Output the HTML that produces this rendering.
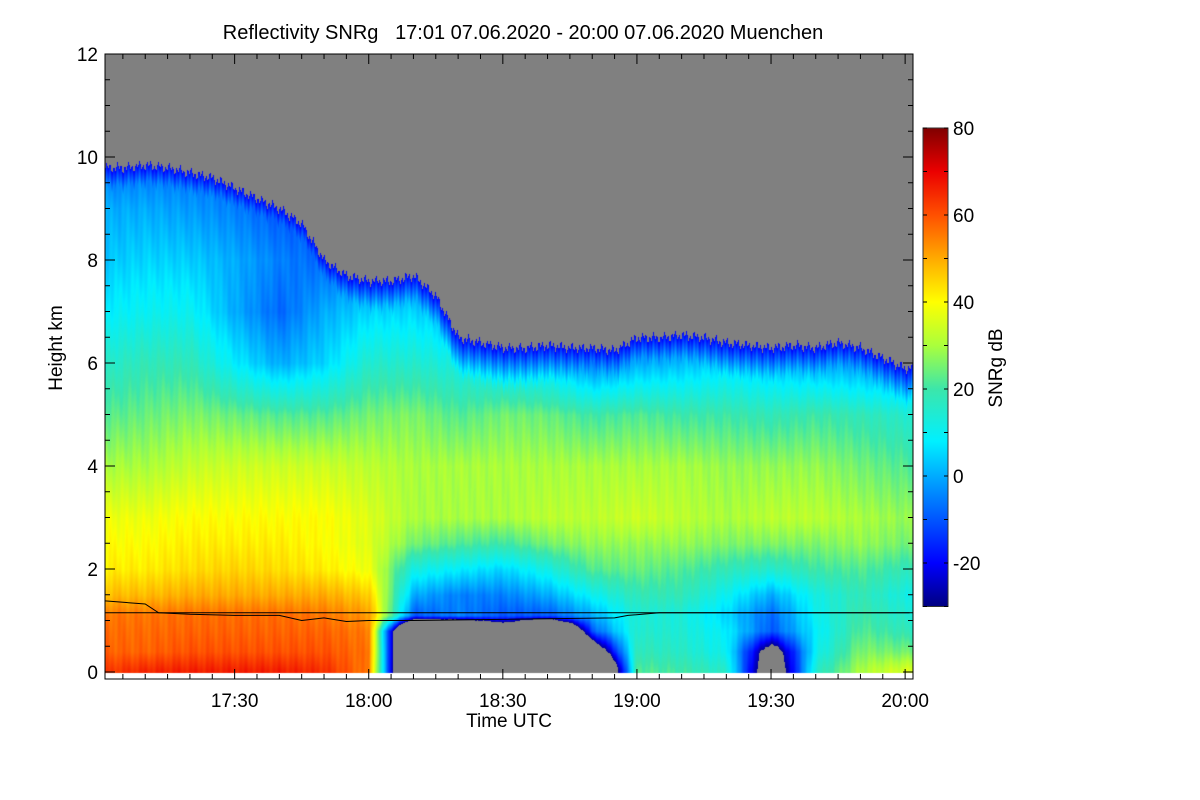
<!DOCTYPE html>
<html><head><meta charset="utf-8"><style>
body{margin:0;background:#fff;}
#wrap{position:relative;width:1200px;height:800px;font-family:"Liberation Sans",sans-serif;}
canvas{position:absolute;left:105px;top:54px;}
svg{position:absolute;left:0;top:0;}
text{white-space:pre;}
</style></head><body>
<div id="wrap">
<canvas id="hm" width="808" height="625"></canvas>
<svg id="ov" width="1200" height="800"></svg>
</div>
<script>
// ---- data ----
const timesMin = [0,10,20,30,40,50,60,70,80,90,100,110,120,130,140,150,160,170,180]; // minutes after 17:00
const heightsKm = [0.05,0.4,0.8,1.1,1.5,2,2.5,3,4,5,6,7,8,9,10];
const topTimes = [0,5,10,15,20,25,30,35,40,45,50,55,60,65,70,75,80,85,90,95,100,105,110,115,120,125,130,135,140,145,150,155,160,165,170,175,180];
const cloudTopKm = [9.8,9.8,9.85,9.8,9.7,9.6,9.4,9.2,9.0,8.7,8.0,7.7,7.6,7.6,7.7,7.3,6.5,6.4,6.3,6.3,6.35,6.3,6.3,6.25,6.5,6.5,6.55,6.5,6.4,6.35,6.3,6.35,6.3,6.4,6.3,6.1,5.9];
const snr = [
[62,58,57,56,48,42,40,38,30,22,15,8,3,0,-8],
[65,58,57,56,48,42,40,38,30,24,18,10,5,0,-8],
[66,60,58,57,50,44,42,40,33,26,18,10,4,-2,-8],
[66,60,58,57,50,45,42,40,34,24,8,0,0,-5,-8],
[66,60,58,57,50,44,42,40,34,22,0,-8,-5,-10,-10],
[64,60,58,56,50,42,40,40,34,22,5,0,-8,-10,-10],
[55,56,55,52,46,38,36,36,32,25,15,5,-5,-10,-12],
[-99,-99,-99,-10,0,12,25,30,30,26,15,5,-10,-12,-12],
[-99,-99,-99,-5,-5,8,22,30,30,22,12,0,-10,-12,-12],
[-99,-99,-50,-10,-5,5,20,30,30,25,8,-10,-12,-12,-12],
[-99,-99,-99,-10,0,12,25,32,30,24,5,-10,-12,-12,-12],
[-99,-50,-10,0,10,22,28,32,30,20,-5,-12,-12,-12,-12],
[22,18,15,14,18,24,28,34,30,22,0,-12,-12,-12,-12],
[20,16,14,13,18,22,28,32,30,20,2,-12,-12,-12,-12],
[15,10,8,5,10,18,26,30,28,20,5,-10,-12,-12,-12],
[-50,-40,-10,-8,0,15,26,32,28,18,2,-10,-12,-12,-12],
[15,10,8,10,12,20,26,32,28,20,0,-10,-12,-12,-12],
[30,26,22,20,18,22,28,30,25,18,-2,-12,-12,-12,-12],
[35,25,18,15,12,18,25,28,22,15,-5,-12,-12,-12,-12]];
const blTimes = [1,10,13,20,30,40,45,50,55,60,65,70,115,118,125,175,181];
const blKm = [1.38,1.32,1.15,1.12,1.1,1.1,1.0,1.05,0.98,1.0,1.0,1.0,1.05,1.1,1.15,1.15,1.15];
const refLineKm = 1.15;
const xTicks = [30,60,90,120,150,180];
const xTickLabels = ["17:30","18:00","18:30","19:00","19:30","20:00"];
const yTicks = [0,2,4,6,8,10,12];
const cbTicks = [-20,0,20,40,60,80];

// ---- axes ----
const X0=105,X1=913,Y0=672,PXKM=51.5;
const xs=m=>X0+(m-1)*4.47;
const ys=k=>Y0-k*PXKM;
const cbY=v=>128+(80-v)*4.35;
const stops=[[-30,0,0,128],[-20,0,0,255],[-5,0,128,255],[8,0,240,255],[20,60,230,170],[30,170,255,60],[40,255,255,0],[50,255,170,0],[60,255,80,0],[70,235,0,0],[80,128,0,0]];
function cmap(v){
  if(v<-28) return [128,128,128];
  if(v<=-30) v=-30; if(v>80) v=80;
  for(let i=1;i<stops.length;i++){ if(v<=stops[i][0]){const a=stops[i-1],b=stops[i],t=(v-a[0])/(b[0]-a[0]);return [a[1]+(b[1]-a[1])*t,a[2]+(b[2]-a[2])*t,a[3]+(b[3]-a[3])*t];}}
  return [128,0,0];
}
function interp(arr,x){ if(x<=arr[0])return [0,0,0]; for(let i=1;i<arr.length;i++) if(x<=arr[i]) return [i-1,i,(x-arr[i-1])/(arr[i]-arr[i-1])]; return [arr.length-1,arr.length-1,0];}
// ---- heatmap ----
const cv=document.getElementById('hm'),ctx=cv.getContext('2d');
const img=ctx.createImageData(808,625);
for(let px=0;px<808;px++){
  const m=px/4.47+1;
  const [i0,i1,tx]=interp(timesMin,m);
  const [c0,c1,tc]=interp(topTimes,m);
  const top=cloudTopKm[c0]*(1-tc)+cloudTopKm[c1]*tc + 0.06*Math.sin(px*1.7)+0.05*Math.sin(px*0.61);
  for(let py=0;py<625;py++){
    const k=(Y0-(py+54))/PXKM;
    let c;
    if(k<0) c=[255,255,255];
    else if(k>top) c=[128,128,128];
    else{
      const [j0,j1,ty]=interp(heightsKm,k);
      const v0=snr[i0][j0]*(1-ty)+snr[i0][j1]*ty, v1=snr[i1][j0]*(1-ty)+snr[i1][j1]*ty;
      let v=v0*(1-tx)+v1*tx + 1.0*Math.sin(px*0.37+k*2.1)+0.8*Math.sin(px*1.13-k*1.3);
      v=Math.min(v,-20+(top-k)*45);
      c=cmap(v);
    }
    const o=(py*808+px)*4; img.data[o]=c[0];img.data[o+1]=c[1];img.data[o+2]=c[2];img.data[o+3]=255;
  }
}
ctx.putImageData(img,0,0);
// ---- overlay ----
const S='http://www.w3.org/2000/svg',svg=document.getElementById('ov');
function el(t,a,txt){const e=document.createElementNS(S,t);for(const k in a)e.setAttribute(k,a[k]);if(txt!=null)e.textContent=txt;svg.appendChild(e);return e;}
const frame=el('rect',{x:X0,y:54,width:X1-X0,height:625,fill:'none',stroke:'#000','stroke-width':1});


let bl='';blTimes.forEach((t,i)=>{bl+=(i?'L':'M')+xs(t).toFixed(1)+','+ys(blKm[i]).toFixed(1);});
const blp=el('path',{d:bl,fill:'none',stroke:'#000','stroke-width':1});


const rl=el('line',{x1:X0,x2:X1,y1:ys(refLineKm),y2:ys(refLineKm),stroke:'#000','stroke-width':1});


for(let m=5;m<=180;m+=5){const maj=m%30==0,L=maj?10:5;
  el('line',{x1:xs(m),x2:xs(m),y1:679,y2:679-L,stroke:'#000'});el('line',{x1:xs(m),x2:xs(m),y1:54,y2:54+L,stroke:'#000'});}
xTicks.forEach((m,i)=>{const t=el('text',{x:xs(m),y:707,'font-size':19,'text-anchor':'middle'},xTickLabels[i]);

});
for(let k=0;k<=12;k+=0.5){const maj=k%2==0,L=maj?10:5;
  el('line',{x1:X0,x2:X0+L,y1:ys(k),y2:ys(k),stroke:'#000'});el('line',{x1:X1,x2:X1-L,y1:ys(k),y2:ys(k),stroke:'#000'});}
yTicks.forEach(k=>{const t=el('text',{x:98,y:ys(k)+7,'font-size':19,'text-anchor':'end'},String(k));

});
// colorbar
const defs=el('defs',{});const g=document.createElementNS(S,'linearGradient');g.setAttribute('id','cb');g.setAttribute('x1',0);g.setAttribute('x2',0);g.setAttribute('y1',1);g.setAttribute('y2',0);defs.appendChild(g);
stops.forEach(s=>{const st=document.createElementNS(S,'stop');st.setAttribute('offset',(s[0]+30)/110);st.setAttribute('stop-color',`rgb(${s[1]},${s[2]},${s[3]})`);g.appendChild(st);});
const cb=el('rect',{x:923,y:cbY(80),width:25,height:cbY(-30)-cbY(80),fill:'url(#cb)',stroke:'#333'});


for(let v=-30;v<=80;v+=10){el('line',{x1:923,x2:927,y1:cbY(v),y2:cbY(v),stroke:'#000'});el('line',{x1:944,x2:948,y1:cbY(v),y2:cbY(v),stroke:'#000'});}
cbTicks.forEach(v=>{const t=el('text',{x:953,y:cbY(v)+7,'font-size':19},String(v));

});
const ct=el('text',{x:0,y:0,'font-size':19,'text-anchor':'middle',transform:'translate(1002,368) rotate(-90)'},'SNRg dB');


const tt=el('text',{x:523,y:39,'font-size':20,'text-anchor':'middle'},'Reflectivity SNRg   17:01 07.06.2020 - 20:00 07.06.2020 Muenchen');


const xt=el('text',{x:509,y:727,'font-size':19,'text-anchor':'middle'},'Time UTC');


const yt=el('text',{x:0,y:0,'font-size':19,'text-anchor':'middle',transform:'translate(62,348) rotate(-90)'},'Height km');


</script>
</body></html>
